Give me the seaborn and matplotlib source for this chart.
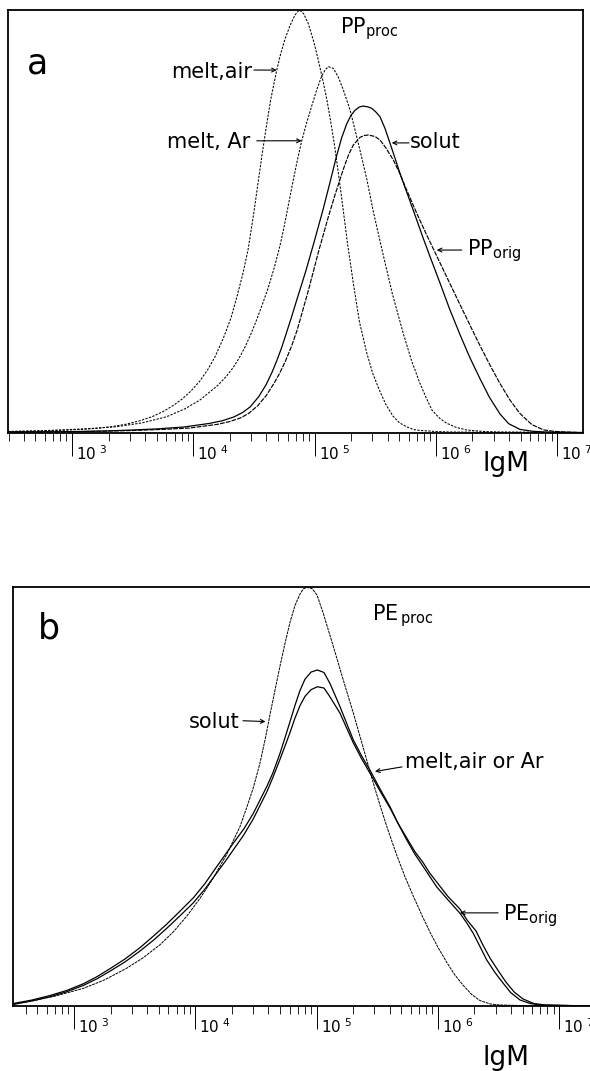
import numpy as np
import pandas as pd
import matplotlib
matplotlib.use("Agg")
import matplotlib.pyplot as plt
import matplotlib.transforms as mtransforms
from matplotlib.ticker import FixedLocator, NullFormatter
import seaborn as sns

# ---------------- data (lg M , relative detector signal) ----------------
# panel a : PP
PP_MELT_AIR_LGM = [2.472, 2.60, 2.736, 2.90, 3.066, 3.20, 3.330, 3.45, 3.56, 3.660, 3.76, 3.84, 3.907, 3.98,
                   4.055, 4.12, 4.179, 4.245, 4.311, 4.36, 4.41, 4.451, 4.496, 4.53, 4.566, 4.60, 4.64,
                   4.688, 4.72, 4.756, 4.797, 4.838, 4.874, 4.91, 4.95, 4.995, 5.031, 5.07, 5.102, 5.13,
                   5.164, 5.20, 5.230, 5.27, 5.319, 5.37, 5.429, 5.48, 5.539, 5.59, 5.646, 5.70, 5.759,
                   5.82, 5.869, 6.0, 6.116, 6.5, 7.213]
PP_MELT_AIR_H = [0.0035, 0.0040, 0.0048, 0.0062, 0.0083, 0.0110, 0.0150, 0.0210, 0.0290, 0.0385, 0.0520,
                 0.066, 0.080, 0.099, 0.123, 0.150, 0.180, 0.222, 0.272, 0.322, 0.378, 0.432, 0.514,
                 0.583, 0.655, 0.720, 0.790, 0.857, 0.895, 0.930, 0.962, 0.987, 0.999, 0.990, 0.965, 0.922,
                 0.880, 0.830, 0.786, 0.740, 0.680, 0.605, 0.540, 0.450, 0.354, 0.262, 0.190, 0.140, 0.098,
                 0.066, 0.040, 0.024, 0.0145, 0.008, 0.006, 0.0035, 0.0024, 0.0015, 0.001]

PP_MELT_AR_LGM = [2.472, 2.70, 2.901, 3.15, 3.368, 3.58, 3.781, 3.93, 4.055, 4.20, 4.27, 4.330, 4.38, 4.43,
                  4.48, 4.523, 4.57, 4.62, 4.67, 4.715, 4.745, 4.770, 4.80, 4.824, 4.86, 4.894, 4.935,
                  4.976, 5.017, 5.059, 5.086, 5.113, 5.154, 5.195, 5.237, 5.292, 5.333, 5.374, 5.43, 5.481,
                  5.556, 5.64, 5.731, 5.80, 5.869, 5.92, 5.968, 6.03, 6.089, 6.17, 6.254, 6.40, 6.528, 7.213]
PP_MELT_AR_H = [0.0035, 0.0050, 0.0071, 0.0105, 0.0149, 0.0240, 0.0385, 0.0570, 0.0779, 0.112, 0.133,
                0.155, 0.178, 0.205, 0.237, 0.268, 0.304, 0.345, 0.393, 0.443, 0.482, 0.518, 0.562, 0.597,
                0.647, 0.690, 0.733, 0.772, 0.810, 0.843, 0.857, 0.865, 0.861, 0.841, 0.810, 0.763, 0.716,
                0.668, 0.600, 0.527, 0.432, 0.330, 0.235, 0.170, 0.117, 0.083, 0.054, 0.035, 0.023, 0.013,
                0.0071, 0.0035, 0.0024, 0.001]

PP_SOLUT_LGM = [2.472, 2.80, 3.066, 3.30, 3.503, 3.72, 3.923, 4.13, 4.24, 4.336, 4.41, 4.47, 4.54, 4.60,
                4.65, 4.69, 4.73, 4.764, 4.81, 4.855, 4.925, 4.995, 5.072, 5.127, 5.182, 5.223, 5.265,
                5.30, 5.333, 5.37, 5.401, 5.44, 5.471, 5.505, 5.539, 5.580, 5.622, 5.663, 5.704, 5.745,
                5.786, 5.842, 5.894, 5.96, 6.034, 6.11, 6.199, 6.28, 6.364, 6.44, 6.528, 6.60, 6.693,
                6.80, 6.899, 7.213]
PP_SOLUT_H = [0.0024, 0.0028, 0.0035, 0.0050, 0.0071, 0.0100, 0.0142, 0.0225, 0.029, 0.038, 0.049, 0.062,
              0.086, 0.114, 0.144, 0.172, 0.203, 0.233, 0.274, 0.316, 0.380, 0.450, 0.530, 0.592, 0.655,
              0.697, 0.730, 0.750, 0.762, 0.770, 0.772, 0.770, 0.7667, 0.758, 0.7469, 0.7195, 0.6841,
              0.6487, 0.6132, 0.580, 0.548, 0.503, 0.461, 0.410, 0.354, 0.295, 0.232, 0.178, 0.128, 0.085,
              0.045, 0.022, 0.0085, 0.004, 0.0024, 0.001]

PP_ORIG_LGM = [2.472, 2.80, 3.066, 3.30, 3.503, 3.75, 3.973, 4.20, 4.30, 4.393, 4.46, 4.53, 4.60, 4.665,
               4.71, 4.76, 4.81, 4.855, 4.90, 4.950, 5.036, 5.113, 5.168, 5.237, 5.28, 5.319, 5.374, 5.41,
               5.443, 5.498, 5.539, 5.588, 5.649, 5.704, 5.759, 5.842, 5.92, 6.007, 6.10, 6.199, 6.28,
               6.364, 6.45, 6.528, 6.61, 6.693, 6.79, 6.885, 6.97, 7.066, 7.213]
PP_ORIG_H = [0.0024, 0.0028, 0.0035, 0.0045, 0.0059, 0.0085, 0.0118, 0.0205, 0.027, 0.036, 0.047, 0.064,
             0.088, 0.117, 0.140, 0.170, 0.205, 0.242, 0.287, 0.338, 0.432, 0.510, 0.562, 0.623, 0.657,
             0.680, 0.698, 0.7025, 0.7037, 0.7001, 0.6919, 0.6730, 0.6446, 0.6116, 0.5738, 0.5188, 0.470,
             0.418, 0.362, 0.303, 0.255, 0.206, 0.158, 0.117, 0.078, 0.046, 0.020, 0.0075, 0.004, 0.0024,
             0.001]

# panel b : PE
PE_SOLUT_LGM = [2.50, 2.664, 2.85, 3.077, 3.25, 3.434, 3.57, 3.709, 3.82, 3.929, 4.04, 4.148, 4.26, 4.369,
                4.42, 4.478, 4.534, 4.579, 4.616, 4.66, 4.698, 4.74, 4.781, 4.822, 4.863, 4.89, 4.918,
                4.962, 5.003, 5.055, 5.138, 5.220, 5.303, 5.385, 5.467, 5.523, 5.59, 5.660, 5.73, 5.797,
                5.87, 5.935, 6.0, 6.073, 6.14, 6.209, 6.28, 6.347, 6.43, 6.512, 6.7, 7.254]
PE_SOLUT_H = [0.0048, 0.0125, 0.024, 0.042, 0.062, 0.090, 0.115, 0.146, 0.177, 0.214, 0.257, 0.305, 0.362,
              0.428, 0.470, 0.520, 0.580, 0.640, 0.695, 0.757, 0.810, 0.865, 0.915, 0.955, 0.982, 0.994,
              0.998, 0.995, 0.980, 0.936, 0.857, 0.777, 0.698, 0.615, 0.532, 0.478, 0.418, 0.360, 0.307,
              0.262, 0.215, 0.176, 0.140, 0.104, 0.074, 0.049, 0.027, 0.013, 0.005, 0.0024, 0.001, 0.0]

PE_MELT_LGM = [2.50, 2.65, 2.802, 2.94, 3.077, 3.19, 3.297, 3.42, 3.544, 3.66, 3.764, 3.87, 3.984, 4.08,
               4.176, 4.245, 4.313, 4.40, 4.478, 4.589, 4.64, 4.698, 4.74, 4.781, 4.82, 4.863, 4.904,
               4.954, 5.006, 5.061, 5.110, 5.193, 5.303, 5.37, 5.448, 5.52, 5.605, 5.67, 5.743, 5.81,
               5.880, 5.93, 5.990, 6.08, 6.182, 6.24, 6.292, 6.35, 6.402, 6.47, 6.539, 6.60, 6.677,
               6.76, 6.842, 7.254]
PE_MELT_H = [0.0060, 0.014, 0.025, 0.037, 0.053, 0.070, 0.089, 0.112, 0.139, 0.168, 0.195, 0.225, 0.258,
             0.292, 0.332, 0.360, 0.388, 0.422, 0.459, 0.523, 0.556, 0.602, 0.640, 0.678, 0.715, 0.752,
             0.779, 0.796, 0.801, 0.795, 0.769, 0.7135, 0.634, 0.597, 0.558, 0.519, 0.475, 0.436, 0.396,
             0.362, 0.332, 0.310, 0.284, 0.254, 0.221, 0.197, 0.173, 0.140, 0.110, 0.080, 0.054, 0.032,
             0.0143, 0.006, 0.0024, 0.0]

PE_ORIG_LGM = [2.50, 2.65, 2.802, 2.94, 3.077, 3.19, 3.297, 3.42, 3.544, 3.66, 3.764, 3.87, 3.984, 4.08,
               4.176, 4.245, 4.313, 4.40, 4.478, 4.589, 4.64, 4.698, 4.74, 4.781, 4.82, 4.863, 4.904,
               4.954, 5.006, 5.061, 5.110, 5.193, 5.303, 5.37, 5.448, 5.52, 5.605, 5.67, 5.743, 5.81,
               5.880, 5.93, 5.990, 6.08, 6.182, 6.24, 6.314, 6.37, 6.430, 6.50, 6.561, 6.63, 6.702,
               6.79, 6.883, 7.254]
PE_ORIG_H = [0.0036, 0.012, 0.022, 0.034, 0.049, 0.065, 0.083, 0.105, 0.131, 0.158, 0.185, 0.214, 0.246,
             0.279, 0.317, 0.344, 0.372, 0.408, 0.446, 0.510, 0.545, 0.588, 0.620, 0.652, 0.685, 0.716,
             0.738, 0.754, 0.761, 0.758, 0.737, 0.698, 0.627, 0.590, 0.551, 0.514, 0.472, 0.436, 0.4005,
             0.368, 0.341, 0.318, 0.2956, 0.262, 0.231, 0.205, 0.179, 0.146, 0.114, 0.083, 0.057, 0.033,
             0.0167, 0.006, 0.0024, 0.0]

MAJOR_TICKS = [1e3, 1e4, 1e5, 1e6, 1e7]
TICK_LABELS = [r'$10^{\ 3}$', r'$10^{\ 4}$', r'$10^{\ 5}$', r'$10^{\ 6}$', r'$10^{\ 7}$']

# ---------------- style ----------------
sns.set_theme(style="white")
plt.rcParams['font.family'] = ['DejaVu Sans']
plt.rcParams['mathtext.fontset'] = 'dejavusans'
plt.rcParams['text.color'] = 'black'
plt.rcParams['axes.labelcolor'] = 'black'
plt.rcParams['xtick.color'] = 'black'
plt.rcParams['axes.edgecolor'] = 'black'

fig = plt.figure(figsize=(5.9, 10.71), dpi=100)
W, H = 590.0, 1071.0
ax_a = fig.add_axes([8 / W, 1 - 433 / H, (583 - 8) / W, (433 - 9.5) / H])
ax_b = fig.add_axes([13.3 / W, 1 - 1006 / H, (590 - 13.3) / W, (1006 - 586.5) / H])


def curve(ax, lgm, h, ls, lw=0.8):
    df = pd.DataFrame({"M": np.power(10.0, np.asarray(lgm)), "h": h})
    sns.lineplot(data=df, x="M", y="h", ax=ax, color="black", lw=lw, linestyle=ls,
                 sort=False, estimator=None)


for ax in (ax_a, ax_b):
    ax.set_xscale("log")

curve(ax_a, PP_MELT_AIR_LGM, PP_MELT_AIR_H, (0, (2.2, 1.3)), 0.75)
curve(ax_a, PP_MELT_AR_LGM, PP_MELT_AR_H, (0, (2.2, 1.3)), 0.75)
curve(ax_a, PP_SOLUT_LGM, PP_SOLUT_H, "-", 0.9)
curve(ax_a, PP_ORIG_LGM, PP_ORIG_H, (0, (4, 1)), 0.85)

curve(ax_b, PE_SOLUT_LGM, PE_SOLUT_H, (0, (3, 0.8)), 0.7)
curve(ax_b, PE_MELT_LGM, PE_MELT_H, "-", 0.9)
curve(ax_b, PE_ORIG_LGM, PE_ORIG_H, "-", 0.9)

ax_a.set_xlim(10 ** 2.4724, 10 ** 7.2127)
ax_b.set_xlim(10 ** 2.4996, 10 ** 7.2539)

for ax in (ax_a, ax_b):
    ax.set_ylim(0, 1.0)
    ax.set_xlabel("")
    ax.set_ylabel("")
    ax.set_yticks([])
    ax.xaxis.set_major_locator(FixedLocator(MAJOR_TICKS))
    ax.set_xticklabels(TICK_LABELS)
    ax.xaxis.set_minor_formatter(NullFormatter())
    ax.tick_params(axis="x", which="major", direction="out", length=16.5, width=0.7,
                   color="black", labelsize=11, labelcolor="black", pad=-8.6, bottom=True)
    ax.tick_params(axis="x", which="minor", direction="out", length=5.5, width=0.6,
                   color="black", bottom=True)
    for sp in ax.spines.values():
        sp.set_color("black")
        sp.set_linewidth(1.3)
    ax.patch.set_alpha(0)

ax_b.spines["right"].set_visible(False)

# shift tick labels to the right of their tick marks
for ax in (ax_a, ax_b):
    for lab in ax.get_xticklabels():
        lab.set_horizontalalignment("left")
        lab.set_transform(lab.get_transform() + mtransforms.Affine2D().translate(4, 0))

TXT = 15
arrow_kw = dict(arrowstyle="->", lw=0.8, color="black", shrinkA=0, shrinkB=0, mutation_scale=7)


def arrow(ax, x0, y0, x1, y1):
    ax.annotate("", xy=(10 ** x1, y1), xytext=(10 ** x0, y0), arrowprops=arrow_kw)


# panel a texts
ax_a.text(0.033, 0.850, "a", transform=ax_a.transAxes, fontsize=25, ha="left", va="baseline")
ax_a.text(10 ** 5.209, 0.944, r"PP$_{\mathrm{proc}}$", fontsize=TXT, ha="left", va="baseline")
ax_a.text(10 ** 4.484, 0.838, "melt,air", fontsize=TXT, ha="right", va="baseline")
arrow(ax_a, 4.500, 0.857, 4.688, 0.857)
ax_a.text(10 ** 4.467, 0.673, "melt, Ar", fontsize=TXT, ha="right", va="baseline")
arrow(ax_a, 4.523, 0.690, 4.894, 0.690)
ax_a.text(10 ** 5.786, 0.672, "solut", fontsize=TXT, ha="left", va="baseline")
arrow(ax_a, 5.778, 0.685, 5.636, 0.685)
ax_a.text(10 ** 6.254, 0.420, r"PP$_{\mathrm{orig}}$", fontsize=TXT, ha="left", va="baseline")
arrow(ax_a, 6.213, 0.432, 6.007, 0.432)

# panel b texts
ax_b.text(0.0428, 0.877, "b", transform=ax_b.transAxes, fontsize=25, ha="left", va="baseline")
ax_b.text(10 ** 5.454, 0.920, r"PE$_{\,\mathrm{proc}}$", fontsize=TXT, ha="left", va="baseline")
ax_b.text(10 ** 4.369, 0.663, "solut", fontsize=TXT, ha="right", va="baseline")
arrow(ax_b, 4.393, 0.680, 4.579, 0.678)
ax_b.text(10 ** 5.729, 0.567, "melt,air or Ar", fontsize=TXT, ha="left", va="baseline")
arrow(ax_b, 5.704, 0.570, 5.481, 0.559)
ax_b.text(10 ** 6.537, 0.205, r"PE$_{\mathrm{orig}}$", fontsize=TXT, ha="left", va="baseline")
arrow(ax_b, 6.496, 0.222, 6.182, 0.222)

# axis titles
fig.text(506 / W, 1 - 471 / H, "lgM", fontsize=19, ha="center", va="baseline")
fig.text(506 / W, 1 - 1065 / H, "lgM", fontsize=19, ha="center", va="baseline")

fig.savefig("out.png", dpi=100, facecolor="white")
